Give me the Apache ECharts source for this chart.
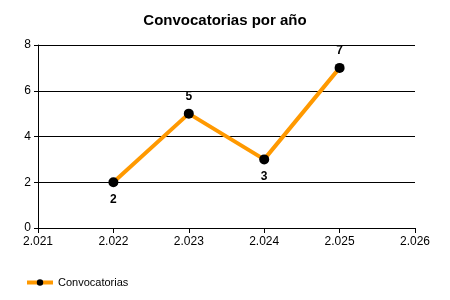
<!DOCTYPE html>
<html><head><meta charset="utf-8">
<script src="https://cdn.jsdelivr.net/npm/echarts@6/dist/echarts.min.js"></script>
<style>html,body{margin:0;padding:0;background:#fff}#c{width:450px;height:300px}</style>
</head><body><div id="c"></div>
<script>
const years = [2022, 2023, 2024, 2025];
const counts = [2, 5, 3, 7];
const labelPos = ['bottom', 'top', 'bottom', 'top'];
const seriesName = 'Convocatorias';
const titleText = 'Convocatorias por año';

const chart = echarts.init(document.getElementById('c'));
const fmtYear = v => String(v).replace(/(\d)(\d{3})$/, '$1.$2');
chart.setOption({
  animation: false,
  textStyle: { fontFamily: 'Liberation Sans, Arial, sans-serif' },
  title: { text: titleText, left: 'center', top: 8,
    textStyle: { fontSize: 15, fontWeight: 'bold', color: '#000', fontFamily: 'Liberation Sans, Arial, sans-serif' } },
  grid: { left: 38, right: 35, top: 45, bottom: 72 },
  legend: { left: 20, top: 272, itemWidth: 26, itemHeight: 8, itemGap: 5,
    textStyle: { fontSize: 11, color: '#000' },
    lineStyle: { width: 4, color: '#FF9900' },
    data: [seriesName] },
  xAxis: { type: 'value', min: 2021, max: 2026, interval: 1,
    axisLine: { show: true, onZero: false, lineStyle: { color: '#000', width: 1 } },
    axisTick: { show: true, length: 5, lineStyle: { color: '#000' } },
    axisLabel: { color: '#000', fontSize: 12, margin: 8, formatter: fmtYear },
    splitLine: { show: false } },
  yAxis: { type: 'value', min: 0, max: 8, interval: 2,
    axisLine: { show: true, lineStyle: { color: '#000', width: 1 } },
    axisTick: { show: true, length: 4, lineStyle: { color: '#000' } },
    axisLabel: { color: '#000', fontSize: 12, margin: 7 },
    splitLine: { show: true, lineStyle: { color: '#000', width: 1 } } },
  series: [{
    name: seriesName, type: 'line',
    data: years.map((y, i) => ({ value: [y, counts[i]], label: { position: labelPos[i] } })),
    symbol: 'circle', symbolSize: 10,
    lineStyle: { color: '#FF9900', width: 4 },
    itemStyle: { color: '#000' },
    label: { show: true, color: '#000', fontWeight: 'bold', fontSize: 12, distance: 6,
      formatter: p => p.value[1] }
  }]
});
</script></body></html>
